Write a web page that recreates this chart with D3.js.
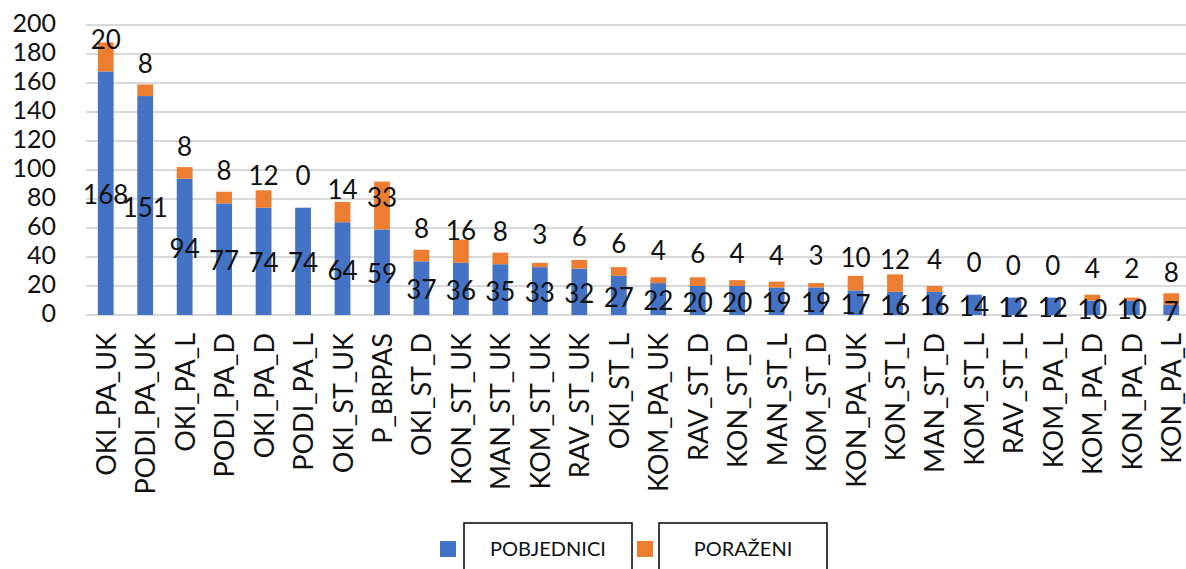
<!DOCTYPE html>
<meta charset="utf-8">
<style>
body { margin: 0; background: #fff; }
svg { display: block; font-family: Lato, "Open Sans", sans-serif; }
.grid line { stroke: #d9d9d9; stroke-width: 2px; }
.tick-label { fill: #111; font-size: 25px; }
.cat-label { fill: #111; font-size: 27px; }
.val-label { fill: #111; font-size: 26px; }
.legend-text { fill: #111; font-size: 20px; }
</style>
<body>
<svg id="chart" width="1186" height="569"></svg>
<script src="https://cdn.jsdelivr.net/npm/d3@7"></script>
<script>
var categories = ["OKI_PA_UK","PODI_PA_UK","OKI_PA_L","PODI_PA_D","OKI_PA_D","PODI_PA_L","OKI_ST_UK","P_BRPAS",
  "OKI_ST_D","KON_ST_UK","MAN_ST_UK","KOM_ST_UK","RAV_ST_UK","OKI_ST_L","KOM_PA_UK","RAV_ST_D","KON_ST_D",
  "MAN_ST_L","KOM_ST_D","KON_PA_UK","KON_ST_L","MAN_ST_D","KOM_ST_L","RAV_ST_L","KOM_PA_L","KOM_PA_D",
  "KON_PA_D","KON_PA_L"];
var pobjednici = [168,151,94,77,74,74,64,59,37,36,35,33,32,27,22,20,20,19,19,17,16,16,14,12,12,10,10,7];
var porazeni   = [20,8,8,8,12,0,14,33,8,16,8,3,6,6,4,6,4,4,3,10,12,4,0,0,0,4,2,8];
var yTicks = [0,20,40,60,80,100,120,140,160,180,200];
var seriesNames = ["POBJEDNICI","PORAŽENI"];
var colors = ["#4472c4","#ed7d31"];

var svg = d3.select("#chart");
var width = 1186;

var table = categories.map(function(c, i){
  return {cat: c, POBJEDNICI: pobjednici[i], "PORAŽENI": porazeni[i]};
});
var stacked = d3.stack().keys(seriesNames)(table);

var x = d3.scaleBand().domain(categories).range([86, 1191]).paddingInner(0.6).paddingOuter(0.3);
var y = d3.scaleLinear().domain([0, 200]).range([315, 25]);

// gridlines
svg.append("g").attr("class", "grid")
  .selectAll("line").data(yTicks).enter().append("line")
  .attr("x1", 86).attr("x2", width)
  .attr("y1", function(d){ return y(d); })
  .attr("y2", function(d){ return y(d); });

// y tick labels
svg.append("g").selectAll("text").data(yTicks).enter().append("text")
  .attr("class", "tick-label")
  .attr("x", 56).attr("y", function(d){ return y(d) - 2; })
  .attr("dy", "0.35em")
  .attr("text-anchor", "end")
  .text(function(d){ return d; });

// bars
svg.append("g").selectAll("g").data(stacked).enter().append("g")
  .attr("fill", function(d, i){ return colors[i]; })
  .selectAll("rect").data(function(d){ return d; }).enter().append("rect")
  .attr("x", function(d){ return x(d.data.cat); })
  .attr("width", x.bandwidth())
  .attr("y", function(d){ return y(d[1]); })
  .attr("height", function(d){ return y(d[0]) - y(d[1]); });

// value labels: winners centred in their segment
svg.append("g").selectAll("text").data(table).enter().append("text")
  .attr("class", "val-label")
  .attr("x", function(d){ return x(d.cat) + x.bandwidth()/2; })
  .attr("y", function(d){ return y(d.POBJEDNICI/2) + 2; })
  .attr("dy", "0.35em")
  .attr("text-anchor", "middle")
  .text(function(d){ return d.POBJEDNICI; });

// losers label floats above the blue segment
svg.append("g").selectAll("text").data(table).enter().append("text")
  .attr("class", "val-label")
  .attr("x", function(d){ return x(d.cat) + x.bandwidth()/2; })
  .attr("y", function(d){ return y(d.POBJEDNICI) - 32; })
  .attr("dy", "0.35em")
  .attr("text-anchor", "middle")
  .text(function(d){ return d["PORAŽENI"]; });

// category labels
svg.append("g").selectAll("text").data(categories).enter().append("text")
  .attr("class", "cat-label")
  .attr("transform", function(d){
    return "translate(" + (x(d) + x.bandwidth()/2 + 10) + ",333) rotate(-90)";
  })
  .attr("text-anchor", "end")
  .text(function(d){ return d; });

// legend
var legend = [
  {name: seriesNames[0], color: colors[0], sq: 440, box: 464, bw: 168},
  {name: seriesNames[1], color: colors[1], sq: 637, box: 659, bw: 168}
];
var lg = svg.append("g").selectAll("g").data(legend).enter().append("g");
lg.append("rect").attr("x", function(d){ return d.sq; }).attr("y", 541)
  .attr("width", 16).attr("height", 16).attr("fill", function(d){ return d.color; });
lg.append("rect").attr("x", function(d){ return d.box; }).attr("y", 523)
  .attr("width", function(d){ return d.bw; }).attr("height", 60)
  .attr("fill", "#fff").attr("stroke", "#000").attr("stroke-width", 1.5);
lg.append("text").attr("class", "legend-text")
  .attr("x", function(d){ return d.box + d.bw/2; }).attr("y", 556)
  .attr("text-anchor", "middle")
  .text(function(d){ return d.name; });
</script>
</body>
